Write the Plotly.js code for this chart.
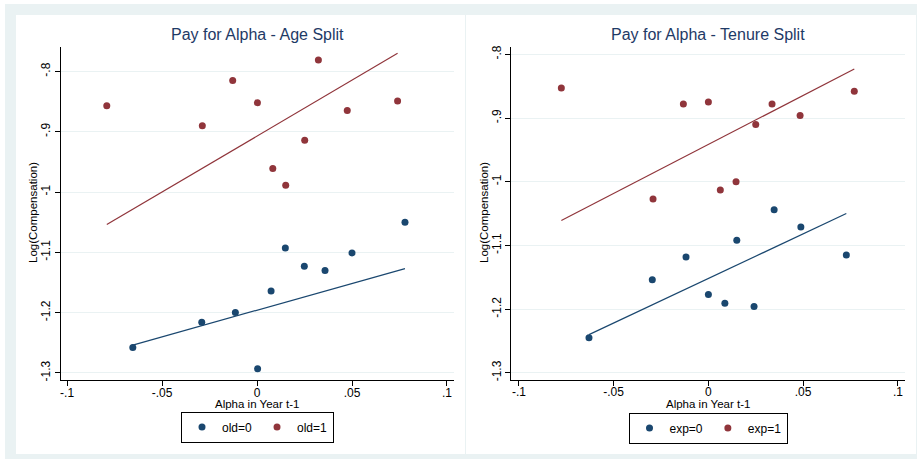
<!DOCTYPE html>
<html>
<head>
<meta charset="utf-8">
<script src="https://cdn.plot.ly/plotly-3.0.1.min.js"></script>
<style>
html,body{margin:0;padding:0;background:#fff;}
#chart{width:917px;height:459px;}
</style>
</head>
<body>
<div id="chart"></div>
<script>
// ---- Data ----
const ageAlpha0 = [-0.0654, -0.0291, -0.0114, 0.0003, 0.0074, 0.0149, 0.0249, 0.0358, 0.0500, 0.0779];
const ageComp0  = [-1.258, -1.216, -1.200, -1.293, -1.164, -1.093, -1.123, -1.130, -1.101, -1.050];
const ageAlpha1 = [-0.0791, -0.0288, -0.0128, 0.0002, 0.0083, 0.0151, 0.0251, 0.0323, 0.0475, 0.0740];
const ageComp1  = [-0.857, -0.890, -0.815, -0.852, -0.961, -0.989, -0.914, -0.781, -0.865, -0.849];
const ageFitX0 = [-0.0654, 0.0779];
const ageFitY0 = [-1.254, -1.127];
const ageFitX1 = [-0.0791, 0.0740];
const ageFitY1 = [-1.054, -0.770];

const tenAlpha0 = [-0.0630, -0.0296, -0.0118, 0.0000, 0.0087, 0.0150, 0.0241, 0.0347, 0.0488, 0.0728];
const tenComp0  = [-1.245, -1.154, -1.118, -1.177, -1.191, -1.092, -1.196, -1.044, -1.071, -1.115];
const tenAlpha1 = [-0.0776, -0.0292, -0.0132, 0.0000, 0.0063, 0.0146, 0.0250, 0.0336, 0.0484, 0.0770];
const tenComp1  = [-0.853, -1.027, -0.878, -0.875, -1.013, -1.000, -0.910, -0.878, -0.896, -0.858];
const tenFitX0 = [-0.0630, 0.0728];
const tenFitY0 = [-1.240, -1.050];
const tenFitX1 = [-0.0776, 0.0770];
const tenFitY1 = [-1.061, -0.823];

const xTickVals = [-0.1, -0.05, 0, 0.05, 0.1];
const xTickText = ['-.1', '-.05', '0', '.05', '.1'];
const yTickVals = [-0.8, -0.9, -1.0, -1.1, -1.2, -1.3];
const yTickText = ['-.8', '-.9', '-1', '-1.1', '-1.2', '-1.3'];

const titles = ['Pay for Alpha - Age Split', 'Pay for Alpha - Tenure Split'];
const xTitle = 'Alpha in Year t-1';
const yTitle = 'Log(Compensation)';
const legendNamesAge = ['old=0', 'old=1'];
const legendNamesTen = ['exp=0', 'exp=1'];

// ---- Styling ----
const NAVY = '#1a476f';
const MAROON = '#90353b';
const GRID = '#eaf2f3';
const FONT = 'Liberation Sans, Arial, sans-serif';
const W = 917, H = 459;
const px = v => v / W;
const py = v => 1 - v / H;

function scatter(x, y, color, name, xa, ya, legend) {
  return {type: 'scatter', mode: 'markers', x: x, y: y, name: name,
    xaxis: xa, yaxis: ya, legend: legend,
    marker: {color: color, size: 7, line: {width: 0}}, hoverinfo: 'x+y'};
}
function fit(x, y, color, xa, ya) {
  return {type: 'scatter', mode: 'lines', x: x, y: y, showlegend: false,
    xaxis: xa, yaxis: ya, line: {color: color, width: 1.2}, hoverinfo: 'skip'};
}

const traces = [
  scatter(ageAlpha0, ageComp0, NAVY, legendNamesAge[0], 'x', 'y', 'legend'),
  scatter(ageAlpha1, ageComp1, MAROON, legendNamesAge[1], 'x', 'y', 'legend'),
  fit(ageFitX0, ageFitY0, NAVY, 'x', 'y'),
  fit(ageFitX1, ageFitY1, MAROON, 'x', 'y'),
  scatter(tenAlpha0, tenComp0, NAVY, legendNamesTen[0], 'x2', 'y2', 'legend2'),
  scatter(tenAlpha1, tenComp1, MAROON, legendNamesTen[1], 'x2', 'y2', 'legend2'),
  fit(tenFitX0, tenFitY0, NAVY, 'x2', 'y2'),
  fit(tenFitX1, tenFitY1, MAROON, 'x2', 'y2')
];

function xaxis(domain, range, anchor) {
  return {domain: domain, range: range, anchor: anchor,
    tickmode: 'array', tickvals: xTickVals, ticktext: xTickText,
    ticks: 'outside', ticklen: 5, tickwidth: 1, tickcolor: '#000',
    ticklabelstandoff: -4,
    showline: true, linecolor: '#000', linewidth: 1, mirror: false,
    showgrid: false, zeroline: false,
    tickfont: {family: FONT, size: 12, color: '#000'}};
}
function yaxis(domain, range, anchor) {
  return {domain: domain, range: range, anchor: anchor,
    tickmode: 'array', tickvals: yTickVals, ticktext: yTickText,
    tickangle: -90,
    ticks: 'outside', ticklen: 5, tickwidth: 1, tickcolor: '#000',
    showline: true, linecolor: '#000', linewidth: 1, mirror: false,
    showgrid: true, gridcolor: GRID, gridwidth: 1, zeroline: false,
    tickfont: {family: FONT, size: 12, color: '#000'}};
}

const legendBase = {orientation: 'h', xanchor: 'center', yanchor: 'middle',
  bordercolor: '#000', borderwidth: 1, bgcolor: '#fff',
  font: {family: FONT, size: 12, color: '#000'}, itemwidth: 30};

function annot(text, x, y, size, color, angle) {
  return {text: text, xref: 'paper', yref: 'paper', x: px(x), y: py(y),
    xanchor: 'center', yanchor: 'middle', showarrow: false, textangle: angle || 0,
    font: {family: FONT, size: size, color: color}};
}

const layout = {
  width: W, height: H,
  margin: {l: 0, r: 0, t: 0, b: 0},
  paper_bgcolor: '#ffffff',
  plot_bgcolor: 'rgba(0,0,0,0)',
  font: {family: FONT, size: 12, color: '#000'},
  xaxis: xaxis([px(61), px(454)], [-0.1032, 0.1037], 'y'),
  yaxis: yaxis([py(380.3), py(47)], [-1.3123, -0.7595], 'x'),
  xaxis2: xaxis([px(511.3), px(904.7)], [-0.104, 0.1036], 'y2'),
  yaxis2: yaxis([py(380), py(47)], [-1.3113, -0.7885], 'x2'),
  legend: Object.assign({}, legendBase, {x: px(257.5), y: py(427)}),
  legend2: Object.assign({}, legendBase, {x: px(708), y: py(428)}),
  shapes: [
    {type: 'rect', xref: 'paper', yref: 'paper', x0: px(5), x1: 1, y0: 0, y1: py(4),
      fillcolor: GRID, line: {width: 0}, layer: 'below'},
    {type: 'rect', xref: 'paper', yref: 'paper', x0: px(16), x1: px(465), y0: py(454), y1: py(15),
      fillcolor: '#fff', line: {width: 0}, layer: 'below'},
    {type: 'rect', xref: 'paper', yref: 'paper', x0: px(466), x1: px(916), y0: py(454), y1: py(15),
      fillcolor: '#fff', line: {width: 0}, layer: 'below'}
  ],
  annotations: [
    annot(titles[0], 257, 34, 16, '#1e3a66'),
    annot(titles[1], 708, 34, 16, '#1e3a66'),
    annot(xTitle, 257, 404, 11.5, '#000'),
    annot(xTitle, 708, 404, 11.5, '#000'),
    annot(yTitle, 33, 213, 11.5, '#000', -90),
    annot(yTitle, 484, 213, 11.5, '#000', -90)
  ]
};

Plotly.newPlot('chart', traces, layout, {displayModeBar: false, staticPlot: true});
</script>
</body>
</html>
